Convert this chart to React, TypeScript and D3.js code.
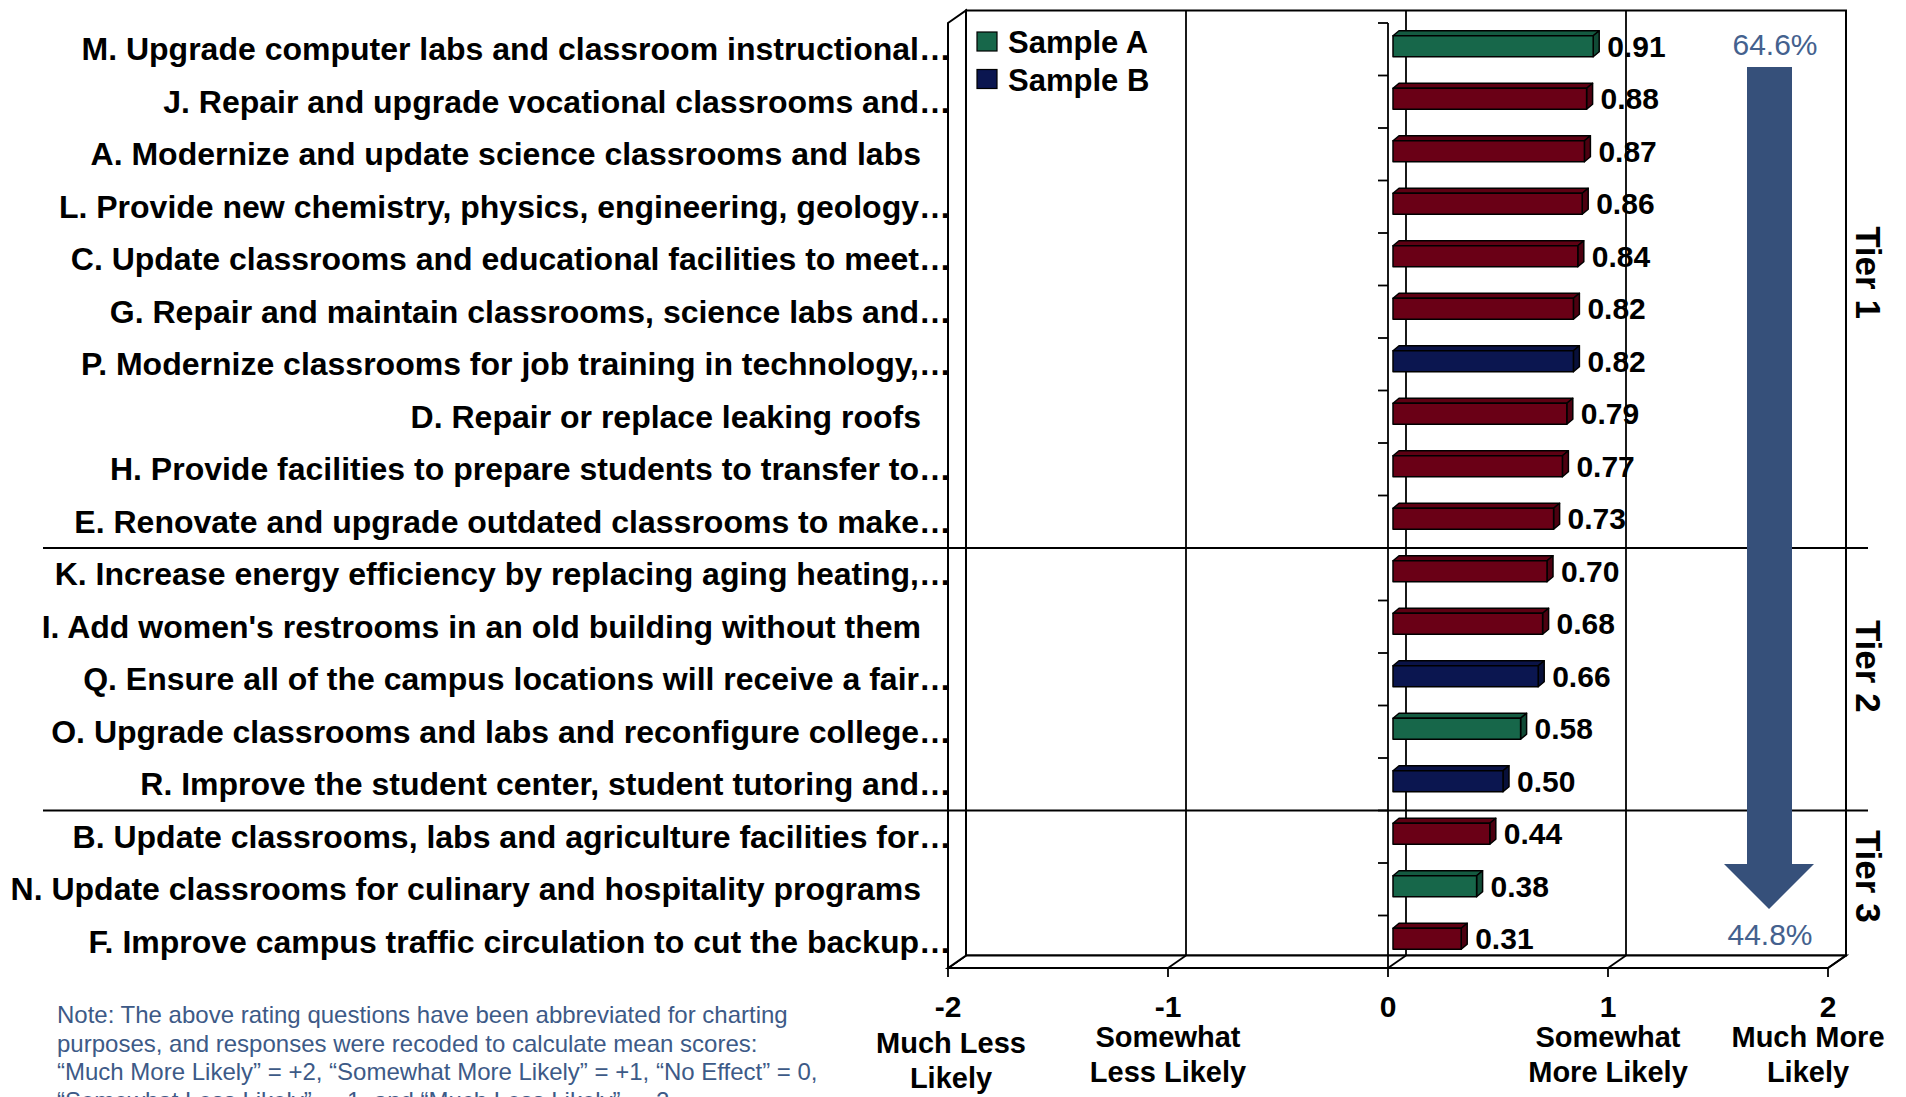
import React from "react";
import * as d3 from "d3";

const categories = [
  "M. Upgrade computer labs and classroom instructional…",
  "J. Repair and upgrade vocational classrooms and…",
  "A. Modernize and update science classrooms and labs",
  "L. Provide new chemistry, physics, engineering, geology…",
  "C. Update classrooms and educational facilities to meet…",
  "G. Repair and maintain classrooms, science labs and…",
  "P. Modernize classrooms for job training in technology,…",
  "D. Repair or replace leaking roofs",
  "H. Provide facilities to prepare students to transfer to…",
  "E. Renovate and upgrade outdated classrooms to make…",
  "K. Increase energy efficiency by replacing aging heating,…",
  "I. Add women's restrooms in an old building without them",
  "Q. Ensure all of the campus locations will receive a fair…",
  "O. Upgrade classrooms and labs and reconfigure college…",
  "R. Improve the student center, student tutoring and…",
  "B. Update classrooms, labs and agriculture facilities for…",
  "N. Update classrooms for culinary and hospitality programs",
  "F. Improve campus traffic circulation to cut the backup…",
];

const values = [0.91, 0.88, 0.87, 0.86, 0.84, 0.82, 0.82, 0.79, 0.77, 0.73, 0.7, 0.68, 0.66, 0.58, 0.5, 0.44, 0.38, 0.31];

const samples = ["A", "Both", "Both", "Both", "Both", "Both", "B", "Both", "Both", "Both", "Both", "Both", "B", "A", "B", "Both", "A", "Both"];

const sampleKeys = ["A", "B", "Both"];
const sampleColors = ["#17674a", "#0b1650", "#6a0016"];
const legendKeys = ["A", "B"];
const legendLabels = ["Sample A", "Sample B"];

const tickValues = [-2, -1, 0, 1, 2];
const tickTitles = [["Much Less", "Likely"], ["Somewhat", "Less Likely"], [], ["Somewhat", "More Likely"], ["Much More", "Likely"]];

const tierBreaks = [10, 15];
const tierNames = ["Tier 1", "Tier 2", "Tier 3"];

const arrowTopLabel = "64.6%";
const arrowBottomLabel = "44.8%";

const noteLines = [
  "Note: The above rating questions have been abbreviated for charting",
  "purposes, and responses were recoded to calculate mean scores:",
  "\u201CMuch More Likely\u201D = +2, \u201CSomewhat More Likely\u201D = +1, \u201CNo Effect\u201D = 0,",
  "\u201CSomewhat Less Likely\u201D = -1, and \u201CMuch Less Likely\u201D = -2.",
];

const FONT = "'Liberation Sans', Arial, sans-serif";

export default function App() {
  const W = 1906;
  const H = 1097;
  const x = d3.scaleLinear().domain([-2, 2]).range([948, 1828]);
  const y = d3.scaleBand<string>().domain(categories).range([23, 968]);
  const color = d3.scaleOrdinal<string, string>().domain(sampleKeys).range(sampleColors);
  const bw = y.bandwidth();
  const DX = 18;
  const DY = -12.5;
  const top = 23;
  const bottom = 968;
  const left = x(-2);
  const right = x(2);
  const x0 = x(0);

  const bdx = 6;
  const bdy = -5;
  const barH = 21;

  const pts = (a: number[][]) => a.map((p) => p.join(",")).join(" ");

  const tiers = [0, ...tierBreaks, categories.length];

  return (
    <div style={{ position: "absolute", left: 0, top: 0, width: W, height: H, overflow: "hidden", background: "#fff" }}>
      <svg width={W} height={H} style={{ display: "block" }} fontFamily={FONT}>
        <rect x={0} y={0} width={W} height={H} fill="#fff" />
        {/* back wall */}
        <rect x={left + DX} y={top + DY} width={right - left} height={bottom - top} fill="#fff" stroke="#000" strokeWidth={2} />
        {tickValues
          .filter((t) => t !== -2 && t !== 2)
          .map((t) => (
            <line key={"g" + t} x1={x(t) + DX} x2={x(t) + DX} y1={top + DY} y2={bottom + DY} stroke="#000" strokeWidth={1.8} />
          ))}
        {/* floor */}
        <polygon points={pts([[left, bottom], [right, bottom], [right + DX, bottom + DY], [left + DX, bottom + DY]])} fill="#fff" stroke="#000" strokeWidth={2} />
        {tickValues.map((t) => (
          <line key={"fd" + t} x1={x(t)} y1={bottom} x2={x(t) + DX} y2={bottom + DY} stroke="#000" strokeWidth={1.8} />
        ))}
        {/* left wall */}
        <polygon points={pts([[left, top], [left + DX, top + DY], [left + DX, bottom + DY], [left, bottom]])} fill="#fff" stroke="#000" strokeWidth={2} />
        {/* x ticks */}
        {tickValues.map((t) => (
          <line key={"xt" + t} x1={x(t)} x2={x(t)} y1={bottom} y2={bottom + 9} stroke="#000" strokeWidth={1.8} />
        ))}
        {/* y axis */}
        <line x1={x0} x2={x0} y1={top} y2={bottom} stroke="#000" strokeWidth={1.8} />
        {d3.range(categories.length + 1).map((i) => (
          <line key={"yt" + i} x1={x0 - 10} x2={x0} y1={top + i * bw} y2={top + i * bw} stroke="#000" strokeWidth={1.8} />
        ))}
        {/* bars */}
        {categories.map((c, i) => {
          const cy = (y(c) as number) + bw / 2 - 3;
          const yt = cy - barH / 2;
          const yb = cy + barH / 2;
          const bx0 = x0 + 5;
          const bx1 = bx0 + (x(values[i]) - x0);
          const col = color(samples[i]);
          const topCol = d3.color(col)!.darker(0.35).toString();
          const sideCol = d3.color(col)!.darker(0.9).toString();
          return (
            <g key={"b" + i} stroke="#000" strokeWidth={1.5} strokeLinejoin="round">
              <polygon points={pts([[bx0, yt], [bx0 + bdx, yt + bdy], [bx1 + bdx, yt + bdy], [bx1, yt]])} fill={topCol} />
              <polygon points={pts([[bx1, yt], [bx1 + bdx, yt + bdy], [bx1 + bdx, yb + bdy], [bx1, yb]])} fill={sideCol} />
              <rect x={bx0} y={yt} width={bx1 - bx0} height={barH} fill={col} />
              <text x={bx1 + 14} y={yb} fontSize={30} fontWeight="bold" fill="#000" stroke="none">
                {values[i].toFixed(2)}
              </text>
            </g>
          );
        })}
        {/* category labels */}
        {categories.map((c) => (
          <text
            key={"l" + c}
            x={c.endsWith("…") ? 951 : 921}
            y={(y(c) as number) + bw / 2 + 11}
            textAnchor="end"
            fontSize={32}
            fontWeight="bold"
            fill="#000"
          >
            {c}
          </text>
        ))}
        {/* tier separators */}
        {tierBreaks.map((b) => (
          <line key={"s" + b} x1={43} x2={1868} y1={top + b * bw} y2={top + b * bw} stroke="#000" strokeWidth={2} />
        ))}
        {/* tier labels */}
        {tierNames.map((n, i) => {
          const cy = top + ((tiers[i] + tiers[i + 1]) / 2) * bw - 13;
          return (
            <text key={n} transform={`translate(1868,${cy}) rotate(90)`} textAnchor="middle" dominantBaseline="central" fontSize={35} fontWeight="bold" fill="#000">
              {n}
            </text>
          );
        })}
        {/* arrow */}
        <polygon points={pts([[1747, 67], [1792, 67], [1792, 864], [1814, 864], [1769, 909], [1724, 864], [1747, 864]])} fill="#36507a" />
        <text x={1775} y={55} textAnchor="middle" fontSize={30} fill="#44618e">
          {arrowTopLabel}
        </text>
        <text x={1770} y={945} textAnchor="middle" fontSize={30} fill="#44618e">
          {arrowBottomLabel}
        </text>
        {/* legend */}
        {legendKeys.map((k, i) => (
          <g key={"lg" + k}>
            <rect x={977} y={32 + i * 37.5} width={20} height={19} fill={color(k)} stroke="#000" strokeWidth={1.2} />
            <text x={1008} y={53 + i * 37.5} fontSize={31} fontWeight="bold" fill="#000">
              {legendLabels[i]}
            </text>
          </g>
        ))}
        {/* x tick labels */}
        {tickValues.map((t, i) => {
          const cx = Math.min(x(t), W - 98);
          return (
            <g key={"xl" + t}>
              <text x={x(t)} y={1017} textAnchor="middle" fontSize={30} fontWeight="bold" fill="#000">
                {String(t)}
              </text>
              {tickTitles[i].map((line, j) => (
                <text key={j} x={t === -2 ? x(t) + 3 : cx} y={(t === -2 ? 1053 : 1047) + j * 35} textAnchor="middle" fontSize={29} fontWeight="bold" fill="#000">
                  {line}
                </text>
              ))}
            </g>
          );
        })}
        {/* note */}
        {noteLines.map((l, i) => (
          <text key={"n" + i} x={57} y={1023 + i * 28.7} fontSize={24} fill="#3d5a87">
            {l}
          </text>
        ))}
      </svg>
    </div>
  );
}
